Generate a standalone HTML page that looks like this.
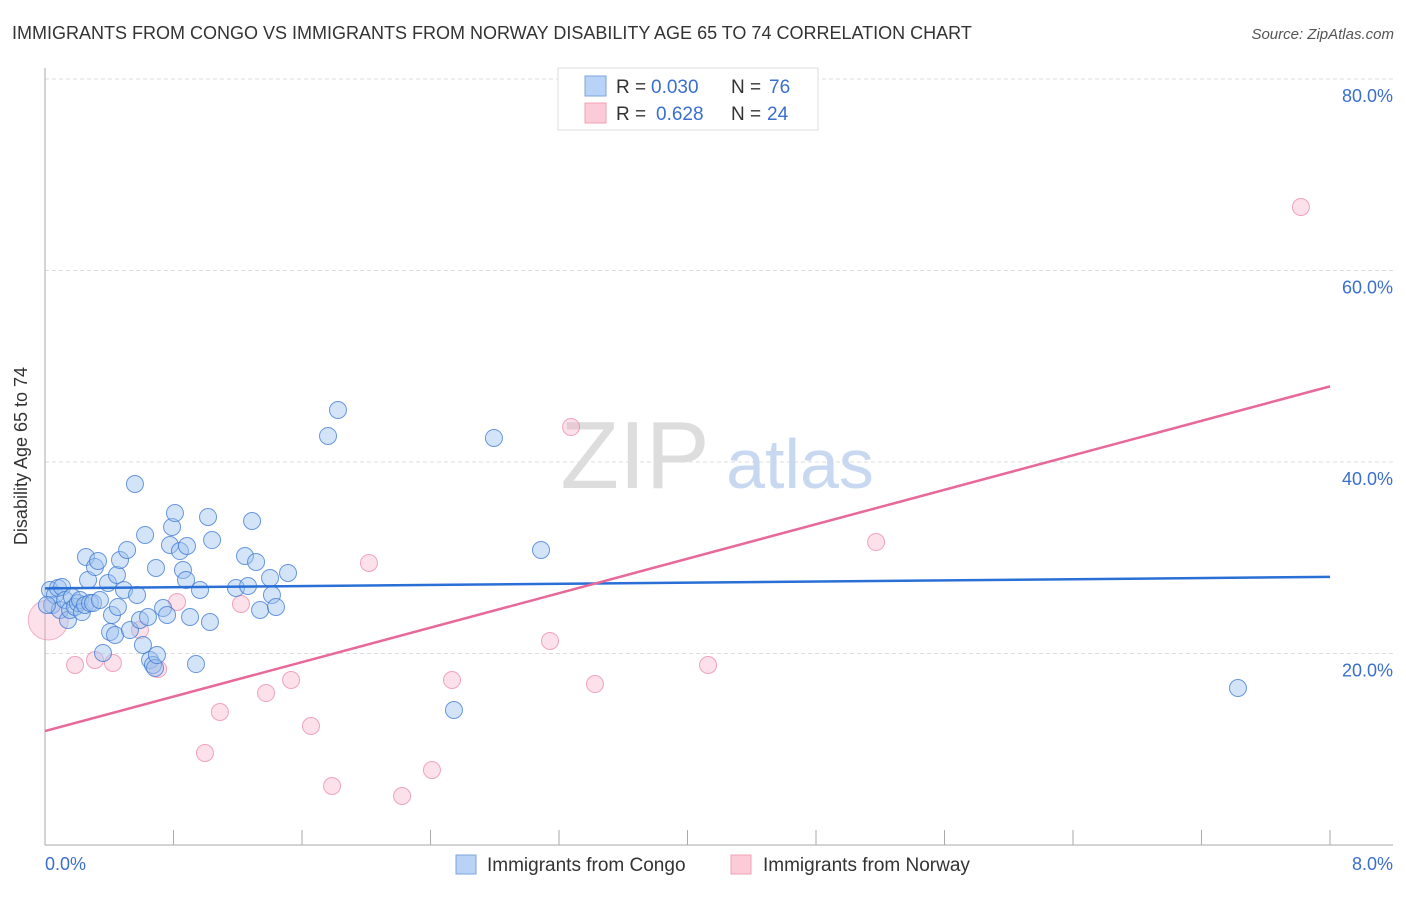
<!DOCTYPE html>
<html><head><meta charset="utf-8"><style>
body{margin:0;background:#fff;font-family:"Liberation Sans",sans-serif;}
svg text{font-family:"Liberation Sans",sans-serif;}
</style></head><body>
<svg width="1406" height="892" xmlns="http://www.w3.org/2000/svg">
<text x="12" y="39" font-size="18" fill="#333">IMMIGRANTS FROM CONGO VS IMMIGRANTS FROM NORWAY DISABILITY AGE 65 TO 74 CORRELATION CHART</text>
<text x="1394" y="39" font-size="15" fill="#555" font-style="italic" text-anchor="end">Source: ZipAtlas.com</text>
<g id="grid"></g>
<text x="635" y="488" font-size="96" fill="#ddd" font-family="Liberation Serif" text-anchor="middle">ZIP</text>
<text x="800" y="488" font-size="70" fill="#c8d8f0" text-anchor="middle">atlas</text>
<line x1="45" y1="68" x2="45" y2="845" stroke="#aaa"/>
<line x1="45" y1="845" x2="1393" y2="845" stroke="#aaa"/>
<g id="marks"></g>
<text x="27" y="456" font-size="18" fill="#333" text-anchor="middle" transform="rotate(-90 27 456)">Disability Age 65 to 74</text>
<text x="45" y="870" font-size="18" fill="#3a6fd0">0.0%</text>
<text x="1393" y="870" font-size="18" fill="#3a6fd0" text-anchor="end">8.0%</text>
<g>
<rect x="558" y="68" width="260" height="62" fill="#fff" stroke="#ddd"/>
<rect x="585" y="76" width="21" height="20" fill="#b8d3f5" stroke="#7ea6e0"/>
<text x="616" y="93" font-size="19" fill="#333">R = </text><text x="651" y="93" font-size="19" fill="#3a6fd0">0.030</text>
<text x="731" y="93" font-size="19" fill="#333">N = </text><text x="769" y="93" font-size="19" fill="#3a6fd0">76</text>
<rect x="585" y="103" width="21" height="20" fill="#fbcbd8" stroke="#f0a0b8"/>
<text x="616" y="120" font-size="19" fill="#333">R = </text><text x="656" y="120" font-size="19" fill="#3a6fd0">0.628</text>
<text x="731" y="120" font-size="19" fill="#333">N = </text><text x="767" y="120" font-size="19" fill="#3a6fd0">24</text>
</g>
<g>
<rect x="456" y="855" width="20" height="19" fill="#b8d3f5" stroke="#7ea6e0"/>
<text x="487" y="871" font-size="19" fill="#333">Immigrants from Congo</text>
<rect x="731" y="855" width="20" height="19" fill="#fbcbd8" stroke="#f0a0b8"/>
<text x="763" y="871" font-size="19" fill="#333">Immigrants from Norway</text>
</g>
</svg>
<script>
const yTicks=[20,40,60,80];
const xTicks=[0.8,1.6,2.4,3.2,4.0,4.8,5.6,6.4,7.2,8.0];
const congoPx=[[50,590],[52,605],[55,595],[58,588],[62,587],[60,610],[65,600],[68,620],[70,610],[72,597],[75,607],[78,603],[80,600],[82,612],[85,605],[88,580],[90,603],[93,603],[86,557],[95,567],[98,561],[100,600],[103,653],[108,583],[110,632],[112,615],[115,635],[117,575],[118,607],[120,560],[124,590],[127,550],[130,630],[135,484],[137,595],[140,620],[143,645],[145,535],[148,617],[150,660],[153,665],[155,668],[157,655],[156,568],[163,608],[167,615],[170,545],[172,527],[175,513],[180,551],[183,570],[186,580],[187,546],[190,617],[196,664],[200,590],[208,517],[210,622],[212,540],[236,588],[245,556],[248,586],[252,521],[256,562],[260,610],[270,578],[272,595],[276,607],[288,573],[328,436],[338,410],[454,710],[494,438],[541,550],[1238,688],[47,605]];
const norwayPx=[[75,665],[95,660],[113,663],[140,630],[158,669],[177,602],[220,712],[205,753],[241,604],[266,693],[291,680],[311,726],[332,786],[369,563],[402,796],[432,770],[452,680],[550,641],[571,427],[595,684],[708,665],[876,542],[1301,207]];
// convert read pixel estimates to data values (x %, y %)
const congoX=congoPx.map(p=>+((p[0]-45)/1285*8).toFixed(3));
const congoY=congoPx.map(p=>+((845-p[1])/191.5*20).toFixed(2));
const norwayX=norwayPx.map(p=>+((p[0]-45)/1285*8).toFixed(3));
const norwayY=norwayPx.map(p=>+((845-p[1])/191.5*20).toFixed(2));
const congoTrend=[26.8,28.0];   // y at x=0 and x=8
const norwayTrend=[11.9,47.9];
const bigNorway=[0.02,23.5];
const sx=v=>45+v/8*1285, sy=v=>845-v/20*191.5;
const NS='http://www.w3.org/2000/svg';
const grid=document.getElementById('grid'), marks=document.getElementById('marks');
function mk(tag,attrs,parent){const e=document.createElementNS(NS,tag);for(const k in attrs)e.setAttribute(k,attrs[k]);parent.appendChild(e);return e;}
yTicks.forEach(t=>{
 const l=mk('line',{x1:45,x2:1393,y1:sy(t),y2:sy(t),stroke:'#ddd','stroke-dasharray':'4,3'},grid);
 
 
 const tx=mk('text',{x:1393,y:sy(t)+23,'font-size':18,fill:'#3a6fd0','text-anchor':'end'},grid);
 tx.textContent=t.toFixed(1)+'%';
 
 
});
xTicks.forEach(t=>{
 const l=mk('line',{x1:sx(t),x2:sx(t),y1:830,y2:845,stroke:'#aaa'},grid);
 
 
});
const bg=mk('circle',{cx:sx(bigNorway[0]),cy:sy(bigNorway[1]),r:20,fill:'rgba(246,170,195,0.35)',stroke:'rgba(235,130,165,0.6)'},marks);


norwayX.forEach((x,i)=>{
 const c=mk('circle',{cx:sx(x),cy:sy(norwayY[i]),r:8.5,fill:'rgba(246,170,195,0.35)',stroke:'rgba(235,130,165,0.7)'},marks);
 
 
});
congoX.forEach((x,i)=>{
 const c=mk('circle',{cx:sx(x),cy:sy(congoY[i]),r:8.5,fill:'rgba(160,195,240,0.45)',stroke:'rgba(60,120,210,0.75)'},marks);
 
 
});
const l1=mk('line',{x1:sx(0),y1:sy(congoTrend[0]),x2:sx(8),y2:sy(congoTrend[1]),stroke:'#2a6fd6','stroke-width':2.5},marks);


const l2=mk('line',{x1:sx(0),y1:sy(norwayTrend[0]),x2:sx(8),y2:sy(norwayTrend[1]),stroke:'#e8689a','stroke-width':2.5},marks);


</script>
</body></html>
